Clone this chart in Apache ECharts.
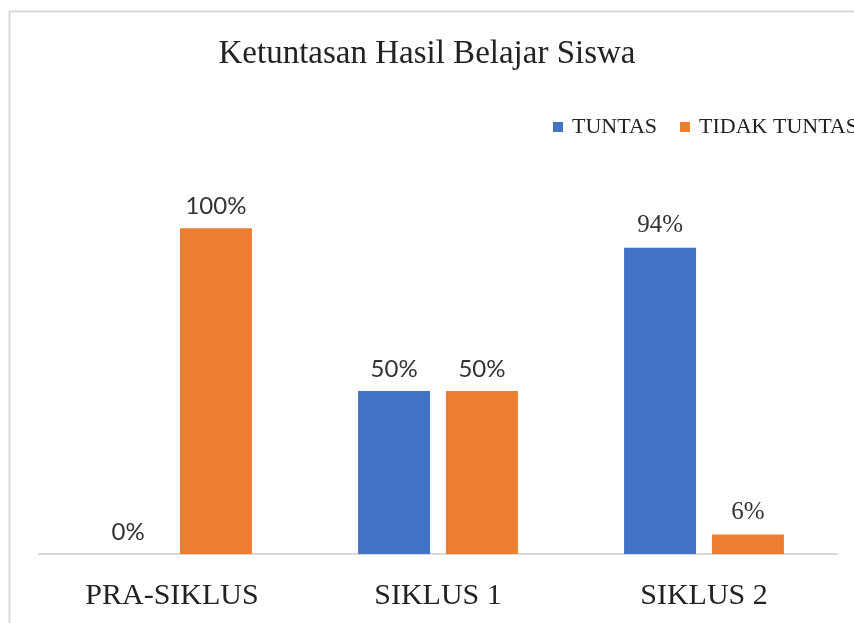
<!DOCTYPE html>
<html>
<head>
<meta charset="utf-8">
<script src="https://cdn.jsdelivr.net/npm/echarts@6/dist/echarts.min.js"></script>
<style>
html,body{margin:0;padding:0;background:#fff;}
#chart{width:854px;height:623px;}
</style>
</head>
<body>
<div id="chart"></div>
<script>
var titleText = 'Ketuntasan Hasil Belajar Siswa';
var categories = ['PRA-SIKLUS', 'SIKLUS 1', 'SIKLUS 2'];
var seriesNames = ['TUNTAS', 'TIDAK TUNTAS'];
var tuntas = [0, 50, 94];
var tidakTuntas = [100, 50, 6];
var colors = ['#4472C4', '#ED7D31'];

var serif = '"Liberation Serif", "DejaVu Serif", serif';
var sans = 'Lato, "Liberation Sans", sans-serif';

function makeData(arr) {
  return arr.map(function (v, i) {
    return {
      value: v,
      label: i === 2 ? { fontFamily: serif, fontSize: 25 } : { fontFamily: sans, fontSize: 24 }
    };
  });
}

var chart = echarts.init(document.getElementById('chart'));
chart.setOption({
  animation: false,
  backgroundColor: '#fff',
  title: {
    text: titleText,
    left: 'center',
    top: 33,
    textStyle: { fontFamily: serif, fontWeight: 'normal', fontSize: 33, color: '#222' }
  },
  legend: {
    data: seriesNames,
    orient: 'horizontal',
    left: 548,
    top: 111,
    width: 600,
    itemWidth: 10,
    itemHeight: 10,
    itemGap: 23,
    icon: 'rect',
    textStyle: { fontFamily: serif, fontSize: 22, color: '#222', padding: [0, 0, 0, 4] }
  },
  graphic: [{
    type: 'rect',
    left: 7, top: 9,
    shape: { width: 900, height: 700 },
    style: { fill: 'none', stroke: '#d9d9d9', lineWidth: 2 },
    silent: true, z: -1
  }],
  grid: { left: 39, right: 17, top: 163, bottom: 69 },
  xAxis: {
    type: 'category',
    data: categories,
    axisLine: { lineStyle: { color: '#d9d9d9', width: 2 } },
    axisTick: { show: false },
    axisLabel: { fontFamily: serif, fontSize: 30, color: '#222', margin: 27 }
  },
  yAxis: {
    type: 'value',
    min: 0, max: 120,
    show: false,
    splitLine: { show: false }
  },
  series: [
    {
      name: seriesNames[0], type: 'bar', data: makeData(tuntas),
      barWidth: 72, barGap: '22%',
      itemStyle: { color: colors[0] },
      label: { show: true, position: 'top', distance: 10, formatter: '{c}%', color: '#333' }
    },
    {
      name: seriesNames[1], type: 'bar', data: makeData(tidakTuntas),
      barWidth: 72, barGap: '22%',
      itemStyle: { color: colors[1] },
      label: { show: true, position: 'top', distance: 10, formatter: '{c}%', color: '#333' }
    }
  ]
});
</script>
</body>
</html>
